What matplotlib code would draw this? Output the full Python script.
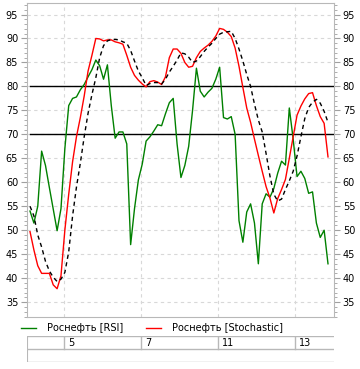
import numpy as np
import matplotlib
matplotlib.use("Agg")
import matplotlib.pyplot as plt
from matplotlib.ticker import MultipleLocator
from matplotlib.lines import Line2D

plt.rcParams['font.family'] = ['DejaVu Sans']

# значения индикаторов (почасовые бары)
rsi = [54.0, 51.5, 55.0, 66.5, 63.5, 58.9, 54.4, 49.9, 54.5, 67.0,
       76.0, 77.5, 77.8, 79.3, 80.4, 82.0, 83.5, 85.5, 84.3, 81.5,
       84.5, 76.0, 69.2, 70.5, 70.5, 68.0, 47.0, 54.5, 60.5, 63.8,
       68.6, 69.5, 70.7, 72.0, 71.8, 74.3, 76.6, 77.5, 68.0, 61.0,
       63.5, 67.5, 75.0, 83.8, 79.0, 77.8, 78.8, 79.6, 81.5, 84.0,
       73.5, 73.2, 73.7, 70.0, 52.0, 47.5, 53.8, 55.5, 51.5, 43.0,
       55.5, 57.6, 56.9, 58.7, 61.9, 64.4, 63.6, 75.5, 69.0, 61.2,
       62.3, 60.8, 57.7, 58.0, 51.5, 48.5, 50.0, 43.0]

stoch_k = [49.7, 45.9, 42.6, 41.0, 41.0, 41.0, 38.6, 37.8, 40.5, 50.0,
           57.5, 64.3, 69.5, 73.5, 78.0, 83.2, 86.5, 90.0, 89.9, 89.5,
           89.7, 89.7, 89.3, 89.1, 88.8, 86.5, 84.0, 82.3, 81.3, 80.5,
           79.9, 81.0, 81.2, 80.9, 80.4, 82.0, 86.0, 87.8, 87.8, 86.9,
           85.0, 84.0, 84.2, 86.0, 87.3, 88.0, 88.6, 89.4, 90.5, 92.1,
           91.9, 91.3, 90.4, 88.0, 84.2, 79.8, 75.5, 72.5, 69.0, 65.6,
           62.3, 59.1, 56.7, 53.6, 56.6, 58.5, 60.6, 65.0, 69.5, 74.0,
           75.9, 77.4, 78.5, 78.7, 76.0, 73.7, 72.3, 65.3]

stoch_d = [55.0, 53.0, 49.0, 46.5, 43.5, 41.5, 40.2, 39.3, 39.8, 41.2,
           45.5, 53.0, 59.0, 64.0, 69.5, 74.4, 78.3, 81.8, 86.0, 88.5,
           89.5, 89.8, 89.8, 89.7, 89.3, 89.0, 87.5, 85.3, 83.2, 81.8,
           80.2, 80.6, 80.8, 80.8, 80.5, 81.5, 83.0, 84.2, 85.5, 87.0,
           86.8, 86.1, 85.0, 85.3, 86.2, 87.3, 88.2, 89.0, 90.0, 90.9,
           91.3, 91.4, 91.5, 90.0, 87.8, 85.3, 82.5, 80.0, 76.3, 73.0,
           70.5, 66.0, 61.3, 57.5, 56.1, 56.5, 58.5, 60.3, 62.3, 65.5,
           69.5, 73.3, 75.6, 76.7, 77.3, 76.5, 74.8, 72.5]

day_pos = [8.8, 28.7, 48.6, 68.5]
day_labels = ['5', '7', '11', '13']
levels = [80, 70]

x = np.arange(len(rsi))

fig = plt.figure(figsize=(3.6, 3.69), dpi=100)
ax = fig.add_axes([27 / 360, 1 - 317 / 369, 307 / 360, 314 / 369])

ax.plot(x, rsi, color='#008000', lw=1, zorder=4)
ax.plot(x, stoch_k, color='#ff0000', lw=1, zorder=5)
ax.plot(x, stoch_d, color='black', lw=1, ls=(0, (3, 2.5)), zorder=5)
for lv in levels:
    ax.axhline(lv, xmin=0.01, xmax=0.997, color='black', lw=1, zorder=3)

ax.set_xlim(-0.78, 78.55)
ax.set_ylim(31.9, 97.4)
ax.set_yticks(range(35, 96, 5))
ax.yaxis.set_minor_locator(MultipleLocator(1))
ax.set_xticks(day_pos)
ax.set_xticklabels([])
ax.tick_params(axis='x', length=0)
ax.tick_params(axis='y', which='both', left=True, right=True,
               labelleft=True, labelright=True, colors='#a0a0a0',
               labelcolor='black', labelsize=7, pad=2)
ax.tick_params(axis='y', which='major', length=4.3)
ax.tick_params(axis='y', which='minor', length=2.2)
ax.grid(True, color='#d8d8d8', ls=(0, (3, 3)), lw=0.8)
for s in ax.spines.values():
    s.set_color('#b8b8b8')

# легенда
handles = [Line2D([], [], color='#008000', lw=1),
           Line2D([], [], color='#ff0000', lw=1)]
fig.legend(handles, ['Роснефть [RSI]', 'Роснефть [Stochastic]'],
           loc='center left', bbox_to_anchor=(17 / 360, 1 - 328 / 369),
           ncol=2, frameon=False, fontsize=7, handlelength=1.6,
           handletextpad=1.1, columnspacing=2.3, borderaxespad=0)

# таблица дат
tb = fig.add_axes([27 / 360, 1 - 362 / 369, 307 / 360, 26 / 369])
tb.set_xlim(ax.get_xlim())
tb.set_ylim(0, 2)
tb.axis('off')
for yy in [0, 1, 2]:
    tb.axhline(yy, color='#b8b8b8', lw=1)
tb.axvline(tb.get_xlim()[0], color='#b8b8b8', lw=1.5)
for p, lab in zip(day_pos, day_labels):
    tb.plot([p, p], [1, 2], color='#b8b8b8', lw=1)
    tb.text(p + 1.0, 1.5, lab, fontsize=7, va='center', ha='left')

fig.savefig('out.png', dpi=100)
